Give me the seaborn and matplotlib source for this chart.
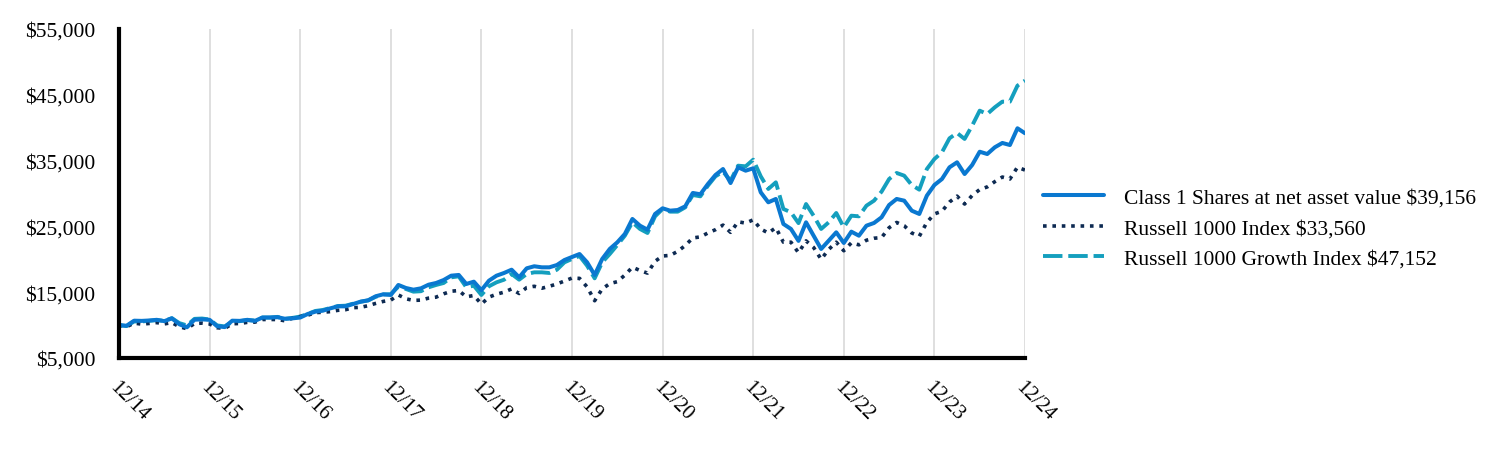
import matplotlib
matplotlib.use("Agg")
import matplotlib.pyplot as plt
import seaborn as sns
import pandas as pd
import numpy as np

tick_labels = ["12/14", "12/15", "12/16", "12/17", "12/18", "12/19",
               "12/20", "12/21", "12/22", "12/23", "12/24"]

class1 = [10000,
    9900, 10670, 10640, 10700, 10800, 10600, 11030, 10120, 9670, 10820, 10870, 10800,
    9820, 9700, 10670, 10640, 10800, 10640, 11150, 11150, 11200, 10960, 11030, 11150,
    11690, 12040, 12190, 12550, 12850, 12850, 13200, 13560, 13770, 14380, 14680, 14580,
    16100, 15640, 15380, 15590, 16140, 16400, 16850, 17510, 17620, 16250, 16600, 15300,
    16750, 17510, 17920, 18420, 17260, 18630, 18940, 18780, 18780, 19130, 19890, 20350,
    20800, 19540, 17620, 20050, 21570, 22580, 23850, 26130, 25110, 24500, 26890, 27750,
    27390, 27490, 28050, 30080, 29880, 31440, 32810, 33720, 31590, 33980, 33470, 33830,
    30180, 28660, 29170, 25370, 24610, 22800, 25620, 23590, 21570, 22830, 24100, 22480,
    24200, 23590, 25110, 25520, 26380, 28250, 29170, 28910, 27390, 26890, 29670, 31290,
    32200, 33980, 34740, 32960, 34330, 36350, 36000, 37020, 37680, 37370, 39910, 39156]

russell1000 = [10000,
    9750, 10300, 10150, 10250, 10380, 10180, 10380, 9750, 9450, 10250, 10300, 10170,
    9600, 9500, 10200, 10250, 10420, 10450, 10850, 10850, 10850, 10650, 11050, 11300,
    11500, 11900, 11950, 12050, 12250, 12340, 12650, 12700, 12950, 13300, 13600, 13800,
    14580, 14000, 13750, 13800, 14100, 14250, 14750, 15150, 15250, 14300, 14500, 13200,
    14250, 14700, 15000, 15500, 14800, 15700, 15900, 15600, 15900, 16250, 16700, 17150,
    17100, 15800, 13700, 15500, 16300, 16600, 17600, 18800, 18300, 17900, 19700, 20500,
    20600, 21200, 22100, 23250, 23400, 24000, 24500, 25200, 24100, 25700, 25500, 26000,
    24600, 24000, 24800, 22600, 22600, 21000, 22800, 21800, 20000, 21500, 22600, 21300,
    22500, 22200, 22900, 23200, 23300, 24800, 25600, 25100, 24000, 23500, 25600, 26900,
    27300, 28700, 29600, 28400, 29700, 30600, 31000, 31800, 32500, 32200, 34000, 33560]

growth = [10000,
    9850, 10550, 10550, 10650, 10750, 10650, 11050, 10300, 9950, 10950, 11000, 10850,
    9950, 9800, 10500, 10600, 10750, 10700, 11150, 11150, 11250, 10950, 11100, 11300,
    11700, 12150, 12300, 12600, 12900, 12950, 13250, 13550, 13750, 14300, 14650, 14700,
    15840, 15490, 15080, 15150, 15740, 16100, 16400, 17260, 17410, 15750, 15990, 14580,
    15900, 16500, 16900, 17770, 16900, 17770, 18020, 18020, 17920, 18420, 19540, 20050,
    20500, 19030, 17110, 19540, 20800, 22170, 23590, 25620, 24610, 24000, 26530, 27650,
    27240, 27240, 27900, 29770, 29570, 31190, 32610, 33320, 31950, 34230, 34130, 35140,
    32610, 30690, 31700, 27650, 27140, 25500, 28400, 26630, 24610, 25620, 27040, 24860,
    26630, 26530, 28150, 28910, 30280, 32200, 33120, 32710, 31290, 30580, 33720, 35240,
    36260, 38390, 39200, 38290, 40310, 42590, 42080, 43100, 43960, 43960, 46390, 47152]

series_names = ["Class 1 Shares at net asset value $39,156",
                "Russell 1000 Index $33,560",
                "Russell 1000 Growth Index $47,152"]

months = np.arange(len(class1))
df = pd.DataFrame({
    "month": np.tile(months, 3),
    "value": class1 + russell1000 + growth,
    "series": np.repeat(series_names, len(months)),
})

sns.set_theme(style="white")
plt.rcParams["font.family"] = ["Liberation Serif", "DejaVu Serif"]
plt.rcParams["text.color"] = "black"
plt.rcParams["xtick.color"] = "black"
plt.rcParams["ytick.color"] = "black"
plt.rcParams["xtick.labelcolor"] = "black"
plt.rcParams["ytick.labelcolor"] = "black"

fig = plt.figure(figsize=(15.12, 4.56), dpi=100)
ax = fig.add_axes([119/1512, 1 - 359/456, (1025 - 119)/1512, (359 - 30)/456])

colors = {series_names[0]: "#0a78d0",
          series_names[1]: "#0d2a52",
          series_names[2]: "#149fbe"}
styles = {series_names[0]: dict(lw=2.9, ls="-"),
          series_names[1]: dict(lw=2.6, ls=(0, (1, 1.6))),
          series_names[2]: dict(lw=2.8, ls=(0, (5, 1.5)))}

handles = {}
for name in [series_names[2], series_names[1], series_names[0]]:
    sub = df[df["series"] == name]
    sns.lineplot(data=sub, x="month", y="value", ax=ax, color=colors[name],
                 linewidth=styles[name]["lw"], label=name, legend=False)
    line = ax.get_lines()[-1]
    line.set_linestyle(styles[name]["ls"])
    handles[name] = line

ax.set_xlim(0, 120)
ax.set_ylim(5000, 55000)
ax.set_xticks(np.arange(0, 121, 12))
ax.set_xticklabels(tick_labels, rotation=-45, ha="left", va="top",
                   rotation_mode="anchor", fontsize=15, color="black")
yt = np.arange(5000, 55001, 10000)
ax.set_yticks(yt)
ax.set_yticklabels([f"${v:,.0f}" for v in yt], fontsize=15.5, color="black")
ax.tick_params(axis="x", length=0, pad=14)
ax.tick_params(axis="y", length=0, pad=17)
ax.set_xlabel("")
ax.set_ylabel("")

ax.grid(axis="x", color="#d9d9d9", linewidth=1.2)
ax.grid(axis="y", visible=False)
for s in ["top", "right"]:
    ax.spines[s].set_visible(False)
for s in ["left", "bottom"]:
    ax.spines[s].set_visible(True)
    ax.spines[s].set_color("black")
    ax.spines[s].set_linewidth(3)

leg = ax.legend([handles[n] for n in series_names], series_names,
                loc="center left", bbox_to_anchor=(0.999, 0.395), frameon=False,
                fontsize=15.5, handlelength=2.8, handletextpad=0.95, labelspacing=0.5)
for t in leg.get_texts():
    t.set_color("black")

fig.savefig("out.png", dpi=100)
